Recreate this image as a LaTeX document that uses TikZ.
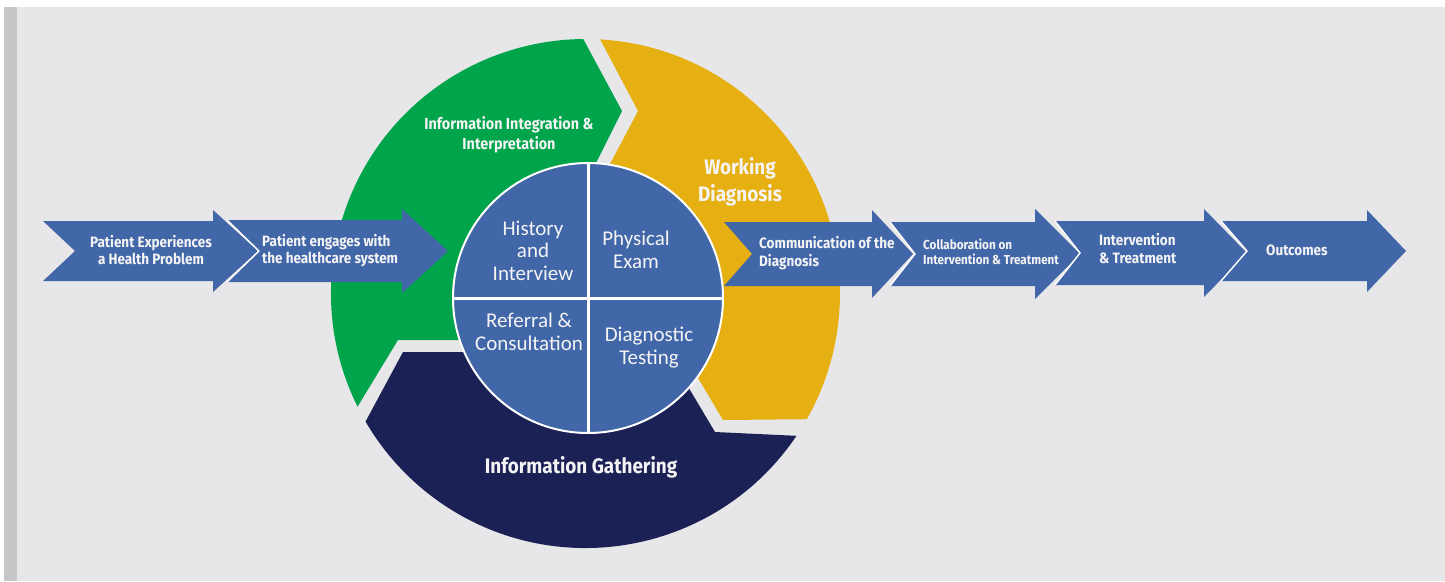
\documentclass[tikz,border=0pt]{standalone}
\usepackage{fontspec}
\setmainfont{Carlito}
\newfontfamily\condf{Fira Sans}[FakeStretch=0.9]
\usetikzlibrary{calc}

\definecolor{pagebg}{HTML}{E7E7E9}
\definecolor{sidebar}{HTML}{C6C7C9}
\definecolor{flowblue}{HTML}{4267A9}
\definecolor{ringgreen}{HTML}{00A44B}
\definecolor{ringyellow}{HTML}{E6AF12}
\definecolor{ringnavy}{HTML}{1B2154}
\definecolor{txtwhite}{HTML}{F4F4F4}

% multi-line labels whose baseline is the first line
\newcommand\linesc[1]{\begin{tabular}[t]{@{}c@{}}#1\end{tabular}}
\newcommand\linesl[1]{\begin{tabular}[t]{@{}l@{}}#1\end{tabular}}

% block arrow with notched tail: tail x, notch x, shoulder x, tip x, centre y, body half-height, head half-height
\newcommand\chevron[7]{%
  \fill[flowblue] (#1,#5+#6) -- (#3,#5+#6) -- (#3,#5+#7) -- (#4,#5)
    -- (#3,#5-#7) -- (#3,#5-#6) -- (#1,#5-#6) -- (#2,#5) -- cycle;}
% white edge along a notch that sits over the previous arrow
\newcommand\notchline[4]{%
  \draw[white, line width=1.4pt] (#1,#3+#4) -- (#2,#3) -- (#1,#3-#4);}

\tikzset{
  flowtxt/.style={text=txtwhite, inner sep=0pt},
  ringtxt/.style={text=txtwhite, inner sep=0pt},
  coretxt/.style={text=txtwhite, inner sep=0pt,
    font=\fontsize{21}{22.6}\selectfont},
}

\begin{document}
\begin{tikzpicture}[x=1pt, y=1pt]
\useasboundingbox (0,0) rectangle (1445,-581);
% page
\fill[white] (0,0) rectangle (1445,-581);
\fill[sidebar] (4,-7) rectangle (17,-581);
\fill[pagebg] (17,-7) rectangle (1445,-581);

\coordinate (rc) at (585.5,-293.5);
\coordinate (ic) at (588,-298);

% outer ring: three chevron arcs
\fill[ringgreen] ($(rc)+(206.4:254.5)$) arc[start angle=206.4, end angle=90.5, radius=254.5]
  -- (622,-111) -- (592,-171) -- (ic) -- (470,-340) -- (398,-340) -- cycle;
\fill[ringyellow] ($(rc)+(86.7:254.5)$) arc[start angle=86.7, end angle=-29.6, radius=254.5]
  -- (723,-420) -- (690.5,-365.4) -- (ic) -- (601.6,-179.9) -- (638,-111) -- cycle;
\fill[ringnavy] ($(rc)+(-34:254.5)$) arc[start angle=-34, end angle=-149.8, radius=254.5]
  -- (403,-352) -- (475,-352) -- (ic) -- (682.5,-377.4) -- (715,-432) -- cycle;

% inner circle with its four quadrants
\node[circle, fill=flowblue, draw=white, line width=2pt, minimum size=270pt, inner sep=0pt] (core) at (ic) {};
\draw[white, line width=3pt] (core.north) -- (core.south);
\draw[white, line width=3pt] (core.west) -- (core.east);

\node[coretxt, anchor=base] (qHist) at (533,-235) {\linesc{History\\and\\Interview}};
\node[coretxt, anchor=base] (qPhys) at (636,-245.7) {\linesc{Physical\\Exam}};
\node[coretxt, anchor=base] (qRef) at (529,-327.7) {\linesc{Referral \&\\Consultation}};
\node[coretxt, anchor=base] (qDiag) at (649,-341.7) {\linesc{Diagnostic\\Testing}};

% ring labels
\node[ringtxt, anchor=base, font=\condf\bfseries\fontsize{16}{20}\selectfont] (lInteg) at (509,-129)
  {\linesc{Information Integration \&\\Interpretation}};
\node[ringtxt, anchor=base, font=\condf\bfseries\fontsize{21}{27}\selectfont] (lWork) at (740,-174)
  {\linesc{Working\\Diagnosis}};
\node[ringtxt, anchor=base, font=\condf\bfseries\fontsize{21}{25}\selectfont] (lGather) at (581,-473)
  {Information Gathering};

% process arrows
\chevron{43}{75}{213}{258}{-251}{30}{41}
\chevron{227}{259}{402}{448}{-251}{31}{42}
\notchline{227}{259}{-251}{31}
\chevron{724}{752}{872}{913}{-254}{32}{44}
\chevron{890}{915}{1035}{1080}{-254}{32}{45}
\notchline{890}{915}{-254}{32}
\chevron{1055}{1080}{1204}{1247}{-253}{32}{44}
\notchline{1055}{1080}{-253}{32}
\chevron{1221}{1247}{1367}{1406}{-251}{30}{41}
\notchline{1221}{1247}{-251}{30}

\node[flowtxt, anchor=base, font=\condf\bfseries\fontsize{15}{17}\selectfont] (aProblem) at (151,-247)
  {\linesc{Patient Experiences\\a Health Problem}};
\node[flowtxt, anchor=base west, font=\condf\bfseries\fontsize{15}{17}\selectfont] (aEngage) at (262,-246)
  {\linesl{Patient engages with\\the healthcare system}};
\node[flowtxt, anchor=base west, font=\condf\bfseries\fontsize{15}{18}\selectfont] (aComm) at (759,-248)
  {\linesl{Communication of the\\Diagnosis}};
\node[flowtxt, anchor=base west, font=\condf\bfseries\fontsize{13}{15}\selectfont] (aCollab) at (923,-249)
  {\linesl{Collaboration on\\Intervention \& Treatment}};
\node[flowtxt, anchor=base west, font=\condf\bfseries\fontsize{15}{18}\selectfont] (aTreat) at (1099,-245)
  {\linesl{Intervention\\\& Treatment}};
\node[flowtxt, anchor=base west, font=\condf\bfseries\fontsize{15}{18}\selectfont] (aOut) at (1266,-255)
  {Outcomes};
\end{tikzpicture}
\end{document}
